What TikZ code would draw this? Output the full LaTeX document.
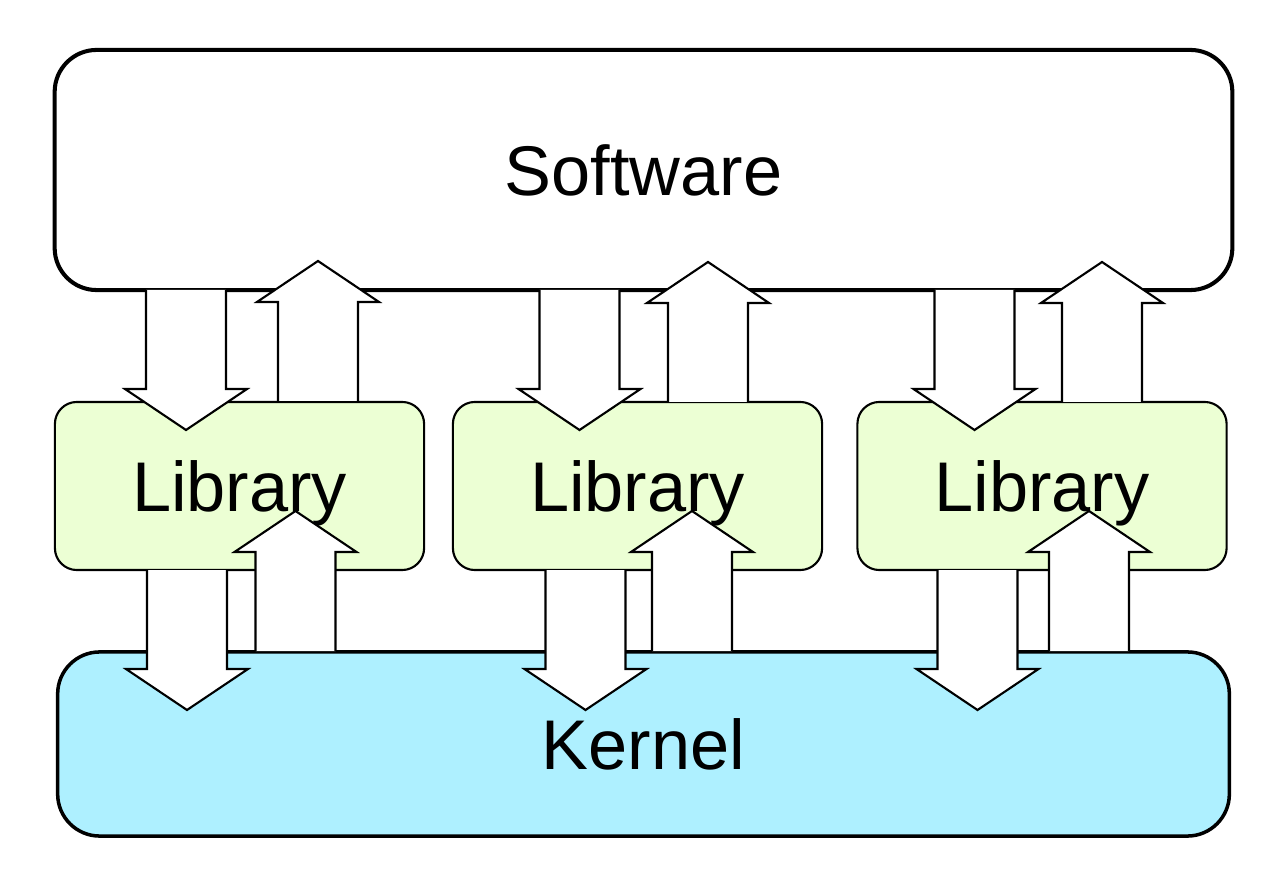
\documentclass[tikz,border=0pt]{standalone}
\usepackage{fontspec}
\setmainfont{Liberation Sans}
\definecolor{libgreen}{RGB}{236,255,212}
\definecolor{kernblue}{RGB}{174,240,255}
\tikzset{
  layer/.style={draw, rounded corners=0.42cm, inner sep=0pt,
    font=\fontsize{20}{24}\selectfont},
  libbox/.style={layer, fill=libgreen, line width=0.6pt, rounded corners=0.22cm,
    minimum width=3.69cm, minimum height=1.68cm, text depth=0pt},
  arrowline/.style={fill=white, draw=black, line width=0.6pt, line join=miter},
  arrdown/.pic={\filldraw[arrowline] (-40,0) -- (-40,99) -- (-61,99) -- (0,140) -- (61,99) -- (40,99) -- (40,0);},
  arrup/.pic={\filldraw[arrowline] (-40,0) -- (-40,-99) -- (-61,-99) -- (0,-140) -- (61,-99) -- (40,-99) -- (40,0);}
}

\begin{document}
\begin{tikzpicture}[x=0.01cm, y=-0.01cm]
    \useasboundingbox (0,0) rectangle (1280,886);
    % layers
    \node[layer, line width=1.15pt, minimum width=11.77cm, minimum height=2.4cm] (sw) at (643.5,170) {Software};
    \node[libbox] (lib1) at (239.5,486) {Library};
    \node[libbox] (lib2) at (637.5,486) {Library};
    \node[libbox] (lib3) at (1042,486) {Library};
    \node[layer, fill=kernblue, line width=1pt, minimum width=11.71cm, minimum height=1.84cm, text depth=0pt] (kern) at (643.5,744) {Kernel};
    % software <-> library
    \pic at (186,290) {arrdown};
    \pic at (318,401) {arrup};
    \pic at (579.5,290) {arrdown};
    \pic at (708,402) {arrup};
    \pic at (974.5,290) {arrdown};
    \pic at (1102,402) {arrup};
    % library <-> kernel
    \pic at (187,570) {arrdown};
    \pic at (295.5,651) {arrup};
    \pic at (585.5,570) {arrdown};
    \pic at (692,651) {arrup};
    \pic at (977.5,570) {arrdown};
    \pic at (1089,651) {arrup};
\end{tikzpicture}
\end{document}
